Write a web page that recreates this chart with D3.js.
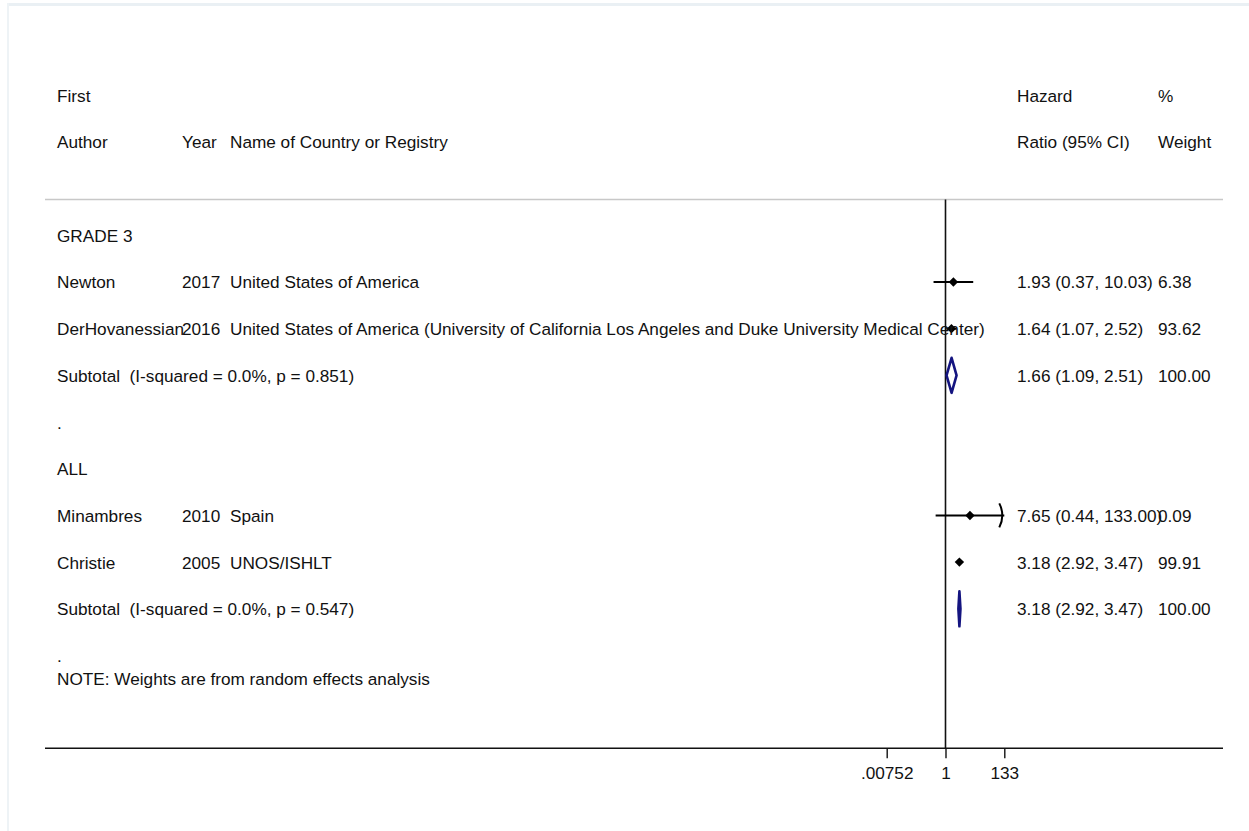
<!DOCTYPE html>
<html>
<head>
<meta charset="utf-8">
<script src="https://cdn.jsdelivr.net/npm/d3@7"></script>
<style>
  html, body { margin: 0; padding: 0; background: #fff; }
  svg { display: block; }
  text { font-family: "Liberation Sans", Arial, Helvetica, sans-serif; font-size: 17.2px; fill: #111; white-space: pre; }
</style>
</head>
<body>
<svg id="plot" width="1249" height="831"></svg>
<script>
// Study-level estimates (hazard ratios with 95% CI and random-effects weights)
const studyGroups    = ["GRADE 3", "GRADE 3", "ALL", "ALL"];
const studyAuthors   = ["Newton", "DerHovanessian", "Minambres", "Christie"];
const studyYears     = ["2017", "2016", "2010", "2005"];
const studyCountries = [
  "United States of America",
  "United States of America (University of California Los Angeles and Duke University Medical Center)",
  "Spain",
  "UNOS/ISHLT"
];
const studyHR     = [1.93, 1.64, 7.65, 3.18];
const studyLow    = [0.37, 1.07, 0.44, 2.92];
const studyHigh   = [10.03, 2.52, 133.00, 3.47];
const studyWeight = [6.38, 93.62, 0.09, 99.91];

// Pooled subgroup estimates
const subgroupNames  = ["GRADE 3", "ALL"];
const subgroupI2     = ["0.0%", "0.0%"];
const subgroupP      = ["0.851", "0.547"];
const subgroupHR     = [1.66, 3.18];
const subgroupLow    = [1.09, 2.92];
const subgroupHigh   = [2.51, 3.47];
const subgroupWeight = [100.00, 100.00];

// Axis ticks
const tickValues = [0.00752, 1, 133];
const tickLabels = [".00752", "1", "133"];

const svg = d3.select("#plot");
const f2 = d3.format(".2f");

// Frame edges of the page
svg.append("rect").attr("x", 7).attr("y", 3).attr("width", 1242).attr("height", 3).attr("fill", "#eaf0f4");
svg.append("rect").attr("x", 7).attr("y", 3).attr("width", 2).attr("height", 828).attr("fill", "#eef3f6");

// Column positions
const col = { author: 57, year: 182, country: 230, hr: 1017, weight: 1158 };

// Row layout: one text line per row index
const rowY = d3.scaleLinear().domain([0, 12]).range([101.7, 662]);
const markOffset = -6.5;

// Log-scaled hazard-ratio axis
const x = d3.scaleLog().domain([tickValues[0], tickValues[2]]).range([886.7, 1004.3]);
const axisY = 748.3;
const topLineY = 199.5;

// Build the table of rows
const rows = [];
rows.push({ r: 0, cells: [["author", "First"], ["hr", "Hazard"], ["weight", "%"]] });
rows.push({ r: 1, cells: [["author", "Author"], ["year", "Year"], ["country", "Name of Country or Registry"], ["hr", "Ratio (95% CI)"], ["weight", "Weight"]] });
let r = 3;
const studyRows = [], subRows = [];
subgroupNames.forEach((g, gi) => {
  rows.push({ r: r++, cells: [["author", g]] });
  studyAuthors.forEach((a, i) => {
    if (studyGroups[i] !== g) return;
    rows.push({ r: r, cells: [
      ["author", a], ["year", studyYears[i]], ["country", studyCountries[i]],
      ["hr", `${f2(studyHR[i])} (${f2(studyLow[i])}, ${f2(studyHigh[i])})`],
      ["weight", f2(studyWeight[i])]
    ]});
    studyRows.push({ r: r, hr: studyHR[i], lo: studyLow[i], hi: studyHigh[i] });
    r++;
  });
  rows.push({ r: r, cells: [
    ["author", `Subtotal  (I-squared = ${subgroupI2[gi]}, p = ${subgroupP[gi]})`],
    ["hr", `${f2(subgroupHR[gi])} (${f2(subgroupLow[gi])}, ${f2(subgroupHigh[gi])})`],
    ["weight", f2(subgroupWeight[gi])]
  ]});
  subRows.push({ r: r, hr: subgroupHR[gi], lo: subgroupLow[gi], hi: subgroupHigh[gi] });
  r++;
  rows.push({ r: r++, cells: [["author", "."]] });
});

// Header separator
svg.append("line").attr("x1", 45).attr("x2", 1223).attr("y1", topLineY).attr("y2", topLineY)
  .attr("stroke", "#c8c8c8").attr("stroke-width", 1.5);

// Line of no effect
svg.append("line").attr("x1", x(1)).attr("x2", x(1)).attr("y1", topLineY).attr("y2", axisY)
  .attr("stroke", "#111").attr("stroke-width", 1.6);

// Confidence intervals and point estimates
const ciG = svg.append("g");
studyRows.forEach(d => {
  const cy = rowY(d.r) + markOffset;
  const clipped = d.hi >= x.domain()[1];
  const x1 = x(Math.max(d.lo, x.domain()[0]));
  const x2 = x(Math.min(d.hi, x.domain()[1]));
  ciG.append("line").attr("x1", x1).attr("x2", x2).attr("y1", cy).attr("y2", cy)
    .attr("stroke", "#000").attr("stroke-width", 2);
  if (clipped) {
    ciG.append("path")
      .attr("d", `M${x2 - 5},${cy - 12} Q${x2 + 1},${cy} ${x2 - 5},${cy + 12}`)
      .attr("fill", "none").attr("stroke", "#000").attr("stroke-width", 2);
  }
  ciG.append("path")
    .attr("d", `M${x(d.hr)},${cy - 4.7} L${x(d.hr) + 4.7},${cy} L${x(d.hr)},${cy + 4.7} L${x(d.hr) - 4.7},${cy} Z`)
    .attr("fill", "#000");
});

// Pooled diamonds
subRows.forEach(d => {
  const cy = rowY(d.r) + markOffset;
  const h = 17.5;
  svg.append("path")
    .attr("d", `M${x(d.lo)},${cy} L${x(d.hr)},${cy - h} L${x(d.hi)},${cy} L${x(d.hr)},${cy + h} Z`)
    .attr("fill", "none").attr("stroke", "#141480").attr("stroke-width", 2.6)
    .attr("stroke-linejoin", "round");
});

// Table text
const textG = svg.append("g");
rows.forEach(row => {
  row.cells.forEach(([c, t]) => {
    textG.append("text").attr("x", col[c]).attr("y", rowY(row.r)).text(t);
  });
});
textG.append("text").attr("x", col.author).attr("y", 685).text("NOTE: Weights are from random effects analysis");

// Bottom axis
const axis = d3.axisBottom(x).tickValues(tickValues)
  .tickFormat((v, i) => tickLabels[i]).tickSize(10).tickPadding(8).tickSizeOuter(0);
const axG = svg.append("g").attr("transform", `translate(0,${axisY})`).call(axis);
axG.select(".domain").remove();
axG.selectAll(".tick line").attr("stroke", "#111").attr("stroke-width", 1.4);
axG.selectAll(".tick text").attr("font-family", "Liberation Sans, Arial, sans-serif").attr("font-size", 16.6).attr("fill", "#111");
svg.append("line").attr("x1", 45).attr("x2", 1223).attr("y1", axisY).attr("y2", axisY)
  .attr("stroke", "#111").attr("stroke-width", 1.6);
</script>
</body>
</html>
